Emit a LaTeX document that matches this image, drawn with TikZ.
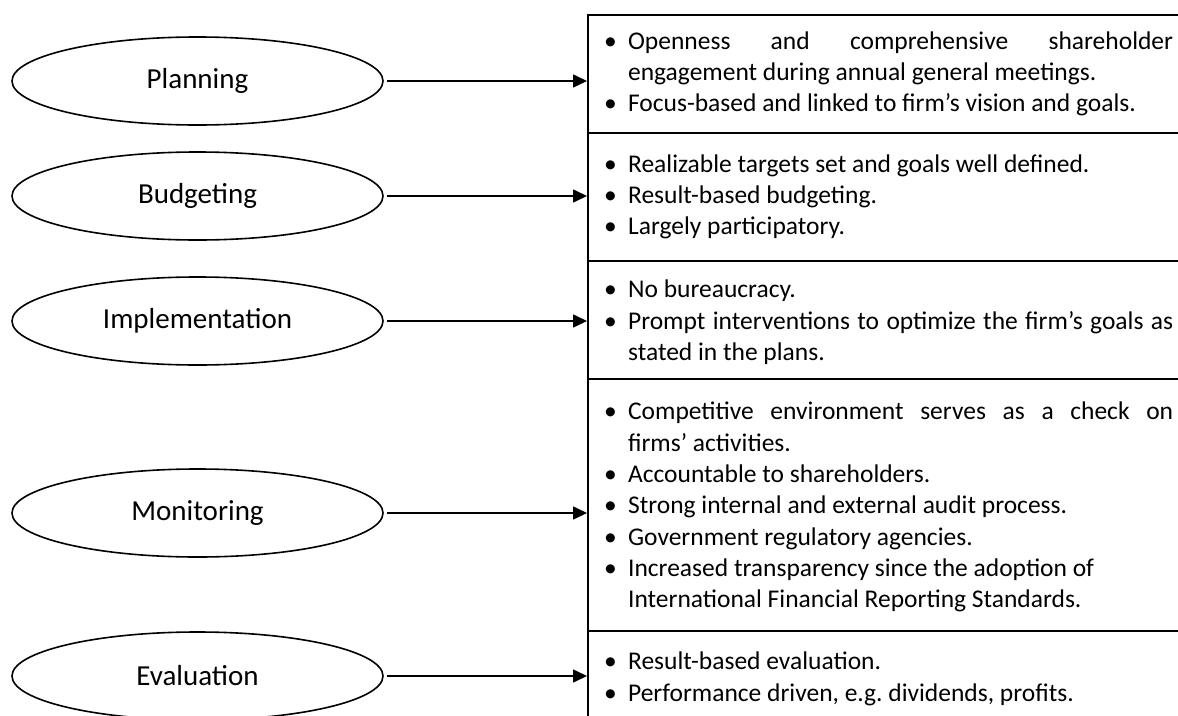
\documentclass[tikz,border=0pt]{standalone}
\usepackage{fontspec}
\setmainfont{Carlito}
\usepackage{tikz}
\usetikzlibrary{positioning,arrows.meta,shapes.geometric}

% bullet with hanging indent for the note boxes
\newcommand\pnt{\par\noindent\hangindent=37pt\hangafter=1%
    \makebox[37pt][l]{\hspace{13pt}\textbullet}\strut\ignorespaces}
% justified block of points; the frame runs on past the right margin
\newcommand\notes[1]{\parbox{582pt}{#1}\kern40pt\relax}

\begin{document}
\begin{tikzpicture}[
    x=1pt, y=1pt,
    stage/.style={ellipse, draw, line width=1.6pt, minimum width=371pt, minimum height=88pt, inner sep=0pt, font=\fontsize{29}{35}\selectfont},
    notebox/.style={draw, line width=2.2pt, anchor=north west, inner xsep=3pt, inner ysep=0pt,
        font=\fontsize{25.5}{31.3}\selectfont},
    link/.style={-{Triangle[length=14pt,width=13pt]}, line width=1.6pt, shorten <=3pt}
]
    \useasboundingbox (0,0) rectangle (1178,-715);
    \clip (0,0) rectangle (1178,-715);

    % --- stages of the control process ---
    \node[stage] (plan)   at (197.5,-81)  {Planning};
    \node[stage] (budget) at (197.5,-196) {Budgeting};
    \node[stage] (impl)   at (197.5,-321) {Implementation};
    \node[stage] (monit)  at (197.5,-513) {Monitoring};
    \node[stage] (eval)   at (197.5,-676) {Evaluation};

    % --- boxes with the features of each stage ---
    \node[notebox, minimum height=118pt] (planbox) at (587,-14) {\notes{%
        \pnt Openness and comprehensive shareholder\linebreak engagement during annual general meetings.
        \pnt Focus-based and linked to firm’s vision and goals.}};
    \node[notebox, minimum height=128pt] (budgetbox) at (587,-132) {\notes{%
        \pnt Realizable targets set and goals well defined.
        \pnt Result-based budgeting.
        \pnt Largely participatory.}};
    \node[notebox, minimum height=118pt] (implbox) at (587,-260) {\notes{%
        \pnt No bureaucracy.
        \pnt Prompt interventions to optimize the firm’s goals as\linebreak stated in the plans.}};
    \node[notebox, minimum height=252pt] (monitbox) at (587,-378) {\notes{%
        \pnt Competitive environment serves as a check on\linebreak firms’ activities.
        \pnt Accountable to shareholders.
        \pnt Strong internal and external audit process.
        \pnt Government regulatory agencies.
        \pnt Increased transparency since the adoption of\newline International Financial Reporting Standards.}};
    \node[notebox, minimum height=96pt] (evalbox) at (587,-630) {\notes{%
        \pnt Result-based evaluation.
        \pnt Performance driven, e.g.\ dividends, profits.}};

    % --- arrows ---
    \draw[link] (plan.east)   -- (plan.east -| planbox.west);
    \draw[link] (budget.east) -- (budget.east -| budgetbox.west);
    \draw[link] (impl.east)   -- (impl.east -| implbox.west);
    \draw[link] (monit.east)  -- (monit.east -| monitbox.west);
    \draw[link] (eval.east)   -- (eval.east -| evalbox.west);
\end{tikzpicture}
\end{document}
